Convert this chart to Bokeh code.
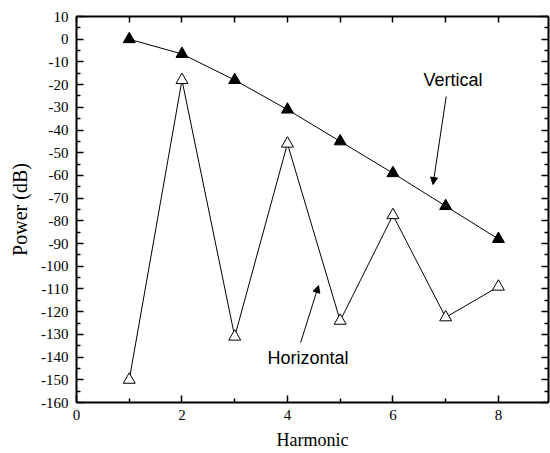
from bokeh.plotting import figure
from bokeh.models import Range1d, LinearAxis, FixedTicker, Label, Arrow, NormalHead
from bokeh.embed import file_html
from bokeh.resources import INLINE

harmonic = [1, 2, 3, 4, 5, 6, 7, 8]
vertical_db = [0, -6.5, -18, -31, -45, -59, -73.5, -88]
horizontal_db = [-150, -18, -131, -46, -124, -77.5, -122.5, -109]
x_ticks = [0, 2, 4, 6, 8]
x_minor = [1, 3, 5, 7]
y_ticks = list(range(-160, 11, 10))
y_minor = list(range(-155, 10, 10))

SERIF = "Liberation Serif"
SANS = "Liberation Sans"

p = figure(width=550, height=453, output_backend="svg", toolbar_location=None,
           x_range=Range1d(0, 8.95), y_range=Range1d(-160, 10),
           min_border_left=76, min_border_right=2, min_border_top=16,
           min_border_bottom=51, x_axis_type=None, y_axis_type=None)
p.grid.visible = False
p.outline_line_color = None
p.background_fill_color = "white"


def style(ax, major, minor, show_labels):
    ax.ticker = FixedTicker(ticks=major, minor_ticks=minor)
    ax.axis_line_width = 2
    ax.axis_line_color = "black"
    ax.major_tick_in = 7
    ax.major_tick_out = 0
    ax.minor_tick_in = 4
    ax.minor_tick_out = 0
    ax.major_tick_line_width = 1.5
    ax.minor_tick_line_width = 1.5
    ax.major_tick_line_color = "black"
    ax.minor_tick_line_color = "black"
    if show_labels:
        ax.major_label_text_font = SERIF
        ax.major_label_text_font_size = "15px"
        ax.major_label_text_color = "black"
        # plain ASCII hyphen for negatives, as in the original
        ax.major_label_overrides = {t: str(t) for t in major}
    else:
        ax.major_label_overrides = {t: "" for t in major}
        ax.major_label_standoff = 0


bottom = LinearAxis(axis_label="Harmonic")
style(bottom, x_ticks, x_minor, True)
bottom.major_label_standoff = 7
bottom.axis_label_standoff = 7
bottom.axis_label_text_font = SERIF
bottom.axis_label_text_font_size = "18px"
bottom.axis_label_text_font_style = "normal"
bottom.axis_label_text_color = "black"
p.add_layout(bottom, "below")

left = LinearAxis(axis_label="Power (dB)")
style(left, y_ticks, y_minor, True)
left.major_label_standoff = 8
left.axis_label_standoff = 7
left.axis_label_text_font = SERIF
left.axis_label_text_font_size = "20px"
left.axis_label_text_font_style = "normal"
left.axis_label_text_color = "black"
p.add_layout(left, "left")

top = LinearAxis()
style(top, list(range(0, 9)), [], False)
top.major_tick_in = 6
p.add_layout(top, "above")

right = LinearAxis()
style(right, y_ticks, y_minor, False)
p.add_layout(right, "right")

# data
p.line(harmonic, vertical_db, line_color="black", line_width=1)
p.scatter(harmonic, vertical_db, marker="triangle", size=12,
          fill_color="black", line_color="black")
p.line(harmonic, horizontal_db, line_color="black", line_width=1)
p.scatter(harmonic, horizontal_db, marker="triangle", size=12,
          fill_color="white", line_color="black", line_width=1)

# annotations
p.add_layout(Label(x=6.58, y=-18, text="Vertical", text_font=SANS,
                   text_font_size="18px", text_color="black",
                   text_baseline="middle", text_align="left"))
p.add_layout(Label(x=3.62, y=-140.5, text="Horizontal", text_font=SANS,
                   text_font_size="18px", text_color="black",
                   text_baseline="middle", text_align="left"))
p.add_layout(Arrow(x_start=7.01, y_start=-25.2, x_end=6.76, y_end=-64,
                   line_color="black", line_width=1,
                   end=NormalHead(size=7, fill_color="black", line_color="black")))
p.add_layout(Arrow(x_start=4.25, y_start=-133.6, x_end=4.59, y_end=-108.5,
                   line_color="black", line_width=1,
                   end=NormalHead(size=7, fill_color="black", line_color="black")))

open("out.html", "w").write(file_html(p, INLINE))
